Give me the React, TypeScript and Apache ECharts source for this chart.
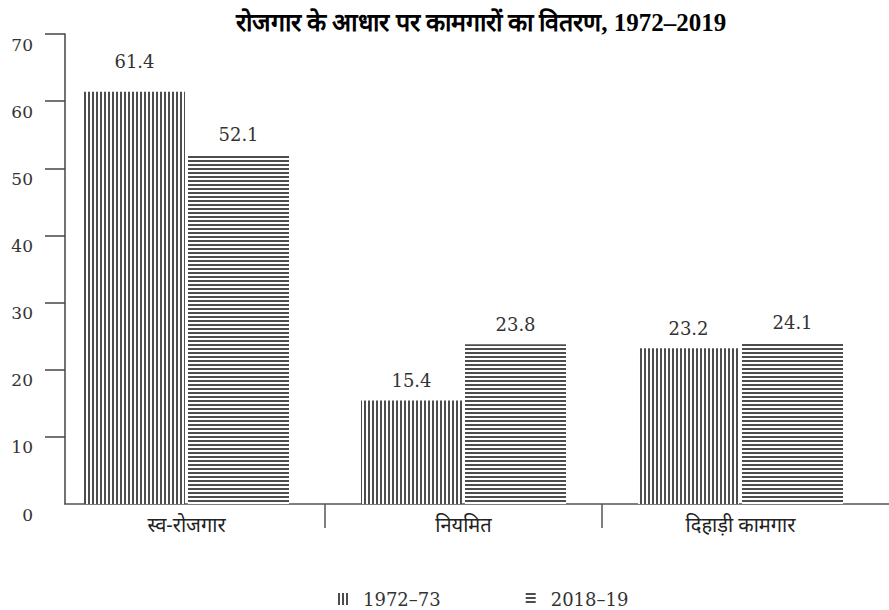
import React, { useEffect, useRef } from "react";
import * as echarts from "echarts";

const title = "रोजगार के आधार पर कामगारों का वितरण, 1972–2019";
const categories = ["स्व-रोजगार", "नियमित", "दिहाड़ी कामगार"];
const seriesNames = ["1972–73", "2018–19"];
const values1972 = [61.4, 15.4, 23.2];
const values2018 = [52.1, 23.8, 24.1];
const yTicks = [0, 10, 20, 30, 40, 50, 60, 70];
const separators = [1, 2];

function makePattern(vertical: boolean) {
  const c = document.createElement("canvas");
  c.width = 4;
  c.height = 4;
  const ctx = c.getContext("2d")!;
  ctx.fillStyle = "#ffffff";
  ctx.fillRect(0, 0, 4, 4);
  ctx.fillStyle = "#4d4d4d";
  if (vertical) ctx.fillRect(0, 0, 2, 4);
  else ctx.fillRect(0, 0, 4, 2);
  return c;
}

export default function App() {
  const ref = useRef<HTMLDivElement>(null);
  useEffect(() => {
    if (!ref.current) return;
    const chart = echarts.init(ref.current, undefined, { renderer: "svg" });
    const vPat = { image: makePattern(true), repeat: "repeat" };
    const hPat = { image: makePattern(false), repeat: "repeat" };
    const serif = "'DejaVu Serif', serif";
    const labelBase = {
      show: true,
      position: "top",
      distance: 11,
      fontFamily: serif,
      fontSize: 18,
      color: "#333",
    };
    const top = 34;
    const bottom = 106;
    const option: any = {
      animation: false,
      backgroundColor: "#fff",
      title: {
        text: title,
        left: 476,
        textAlign: "center",
        top: 5,
        textStyle: {
          fontFamily: "'Liberation Serif', serif",
          fontWeight: "bold",
          fontSize: 25,
          color: "#000",
        },
      },
      legend: {
        left: 333,
        top: 585,
        itemWidth: 10,
        itemHeight: 12,
        itemGap: 85,
        icon: "rect",
        textStyle: {
          fontFamily: serif,
          fontSize: 18,
          color: "#333",
          padding: [0, 0, 0, 10],
        },
        data: seriesNames,
      },
      grid: [
        { left: 48, right: 10, top, bottom },
        { left: 65, right: 0, top, bottom },
      ],
      xAxis: [
        {
          type: "category",
          gridIndex: 0,
          data: categories,
          position: "bottom",
          axisLine: { show: false },
          axisTick: { show: false },
          axisLabel: {
            margin: 10,
            fontFamily: "'Noto Sans', sans-serif",
            fontSize: 20,
            color: "#222",
          },
        },
        {
          type: "value",
          gridIndex: 0,
          min: 0,
          max: categories.length,
          position: "bottom",
          axisLine: { show: false },
          axisLabel: { show: false },
          splitLine: { show: false },
          axisTick: {
            show: true,
            length: 24,
            customValues: separators,
            lineStyle: { color: "#555", width: 1.5 },
          },
        },
        {
          type: "value",
          gridIndex: 1,
          min: 0,
          max: 1,
          position: "bottom",
          axisLine: { show: true, lineStyle: { color: "#555", width: 1.5 } },
          axisTick: { show: false },
          axisLabel: { show: false },
          splitLine: { show: false },
        },
      ],
      yAxis: [
        { type: "value", gridIndex: 0, min: 0, max: 70, interval: 10, show: false },
        {
          type: "value",
          gridIndex: 1,
          min: 0,
          max: 70,
          interval: 10,
          axisLine: { show: true, lineStyle: { color: "#444", width: 1.5 } },
          axisTick: {
            show: true,
            length: 20,
            customValues: yTicks.filter((t) => t > 0),
            lineStyle: { color: "#444", width: 1.5 },
          },
          axisLabel: {
            margin: 32,
            fontFamily: serif,
            fontSize: 17,
            color: "#333",
            verticalAlign: "top",
            padding: [2, 0, 0, 0],
            customValues: yTicks,
          },
          splitLine: { show: false },
        },
      ],
      series: [
        {
          name: seriesNames[0],
          type: "bar",
          xAxisIndex: 0,
          yAxisIndex: 0,
          barWidth: 101,
          barGap: "3%",
          itemStyle: { color: vPat },
          label: labelBase,
          data: values1972.map((v, i) =>
            i === 0 ? { value: v, label: { distance: 21 } } : v
          ),
        },
        {
          name: seriesNames[1],
          type: "bar",
          xAxisIndex: 0,
          yAxisIndex: 0,
          barWidth: 101,
          barGap: "3%",
          itemStyle: { color: hPat },
          label: labelBase,
          data: values2018,
        },
      ],
    };
    chart.setOption(option);
    return () => chart.dispose();
  }, []);
  return <div ref={ref} style={{ width: 889, height: 610, position: "absolute", left: 0, top: 0 }} />;
}
